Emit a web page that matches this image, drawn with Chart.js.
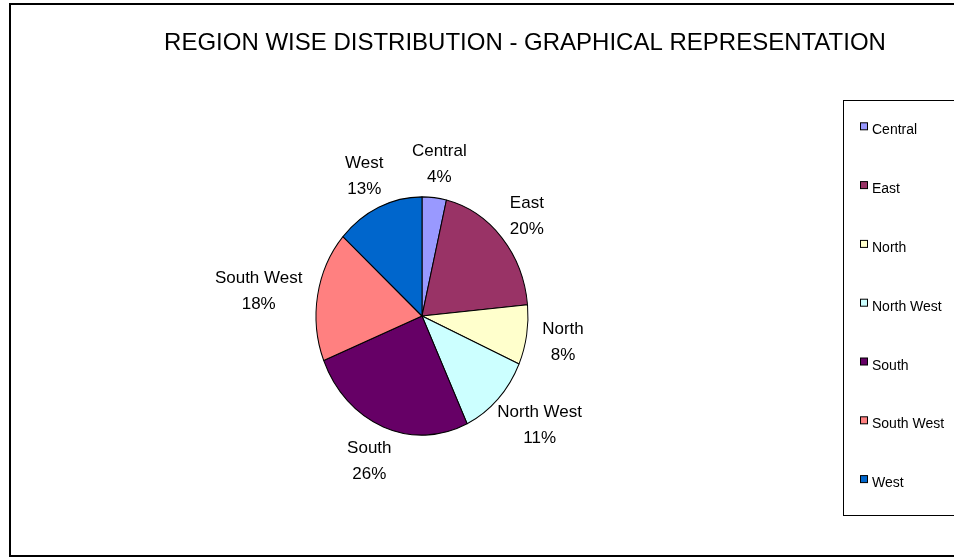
<!DOCTYPE html>
<html>
<head>
<meta charset="utf-8">
<title>Region wise distribution</title>
<script src="https://cdn.jsdelivr.net/npm/chart.js@4/dist/chart.umd.min.js"></script>
<style>
    html, body { margin: 0; padding: 0; background: #ffffff; overflow: hidden; }
    #wrap { width: 954px; height: 557px; overflow: hidden; }
    canvas { display: block; }
</style>
</head>
<body>
<div id="wrap"><canvas id="regionChart" width="1050" height="557"></canvas></div>
<script>
// Chart data
const chartTitle = 'REGION WISE DISTRIBUTION - GRAPHICAL REPRESENTATION';
const regions = ['Central', 'East', 'North', 'North West', 'South', 'South West', 'West'];
const shares = [3.7, 19.8, 8.1, 11.4, 25.9, 17.7, 13.4];
const sliceColors = ['#9999FF', '#993366', '#FFFFCC', '#CCFFFF', '#660066', '#FF8080', '#0066CC'];

const FONT = '"Liberation Sans", Arial, sans-serif';
const Y_STRETCH = 1.124; // the pie in the picture is a bit taller than wide

// white page, outer frame and the title (the title sits centred on the
// whole chart frame, not over the pie, so it is drawn here)
const framePlugin = {
    id: 'frame',
    beforeDraw(chart) {
        const ctx = chart.ctx;
        ctx.save();
        ctx.fillStyle = '#ffffff';
        ctx.fillRect(0, 0, chart.width, chart.height);
        ctx.strokeStyle = '#000000';
        ctx.lineWidth = 2;
        ctx.strokeRect(10, 4, chart.width + 20, 552);
        ctx.restore();
    },
    afterDraw(chart) {
        const ctx = chart.ctx;
        ctx.save();
        ctx.font = `24px ${FONT}`;
        ctx.fillStyle = '#000000';
        ctx.textAlign = 'center';
        ctx.textBaseline = 'alphabetic';
        ctx.fillText(chartTitle, 525, 50);
        ctx.restore();
    }
};

// stretch the pie vertically around its centre
const ellipsePlugin = {
    id: 'ellipse',
    beforeDatasetsDraw(chart) {
        const arc = chart.getDatasetMeta(0).data[0];
        const ctx = chart.ctx;
        ctx.save();
        ctx.translate(arc.x, arc.y);
        ctx.scale(1, Y_STRETCH);
        ctx.translate(-arc.x, -arc.y);
    },
    afterDatasetsDraw(chart) {
        chart.ctx.restore();
    }
};

// "Name / nn%" labels outside each slice
const sliceLabelPlugin = {
    id: 'sliceLabels',
    afterDraw(chart) {
        const ctx = chart.ctx;
        const data = chart.data.datasets[0].data;
        const total = data.reduce((a, b) => a + b, 0);
        const size = 17;
        const capH = size * 0.716;
        const lineGap = 26;
        const gap = 16;
        ctx.save();
        ctx.font = `${size}px ${FONT}`;
        ctx.fillStyle = '#000000';
        ctx.textAlign = 'center';
        ctx.textBaseline = 'alphabetic';
        chart.getDatasetMeta(0).data.forEach((arc, i) => {
            const mid = (arc.startAngle + arc.endAngle) / 2;
            const ux = Math.cos(mid);
            const uy = Math.sin(mid);
            const name = chart.data.labels[i];
            const pct = Math.round(data[i] / total * 100) + '%';
            const w = Math.max(ctx.measureText(name).width, ctx.measureText(pct).width);
            const h = capH + lineGap;
            const px = arc.x + arc.outerRadius * ux;
            const py = arc.y + arc.outerRadius * Y_STRETCH * uy;
            const bx = px + gap * ux + ux * w / 2;
            const by = py + gap * uy + uy * h / 2;
            const top = by - h / 2;
            ctx.fillText(name, bx, top + capH);
            ctx.fillText(pct, bx, top + capH + lineGap);
        });
        ctx.restore();
    }
};

// boxed legend on the right
const legendPlugin = {
    id: 'boxLegend',
    afterDraw(chart) {
        const ctx = chart.ctx;
        const colors = chart.data.datasets[0].backgroundColor;
        ctx.save();
        ctx.strokeStyle = '#000000';
        ctx.lineWidth = 1;
        ctx.strokeRect(843.5, 100.5, 200, 415);
        ctx.font = `14px ${FONT}`;
        ctx.textAlign = 'left';
        ctx.textBaseline = 'alphabetic';
        chart.data.labels.forEach((label, i) => {
            const base = 134.3 + i * 58.8;
            ctx.fillStyle = colors[i];
            ctx.fillRect(860.5, base - 11.5, 7, 7);
            ctx.strokeStyle = '#000000';
            ctx.strokeRect(860.5, base - 11.5, 7, 7);
            ctx.fillStyle = '#000000';
            ctx.fillText(label, 872, base);
        });
        ctx.restore();
    }
};

const chart = new Chart(document.getElementById('regionChart').getContext('2d'), {
    type: 'pie',
    data: {
        labels: regions,
        datasets: [{
            data: shares,
            backgroundColor: sliceColors,
            borderColor: '#000000',
            borderWidth: 1
        }]
    },
    options: {
        responsive: false,
        animation: false,
        devicePixelRatio: 1,
        layout: { padding: { left: 10, right: 216, top: 209.5, bottom: 134.5 } },
        plugins: {
            legend: { display: false },
            tooltip: { enabled: false },
            title: { display: false }
        }
    },
    plugins: [framePlugin, ellipsePlugin, sliceLabelPlugin, legendPlugin]
});
</script>
</body>
</html>
